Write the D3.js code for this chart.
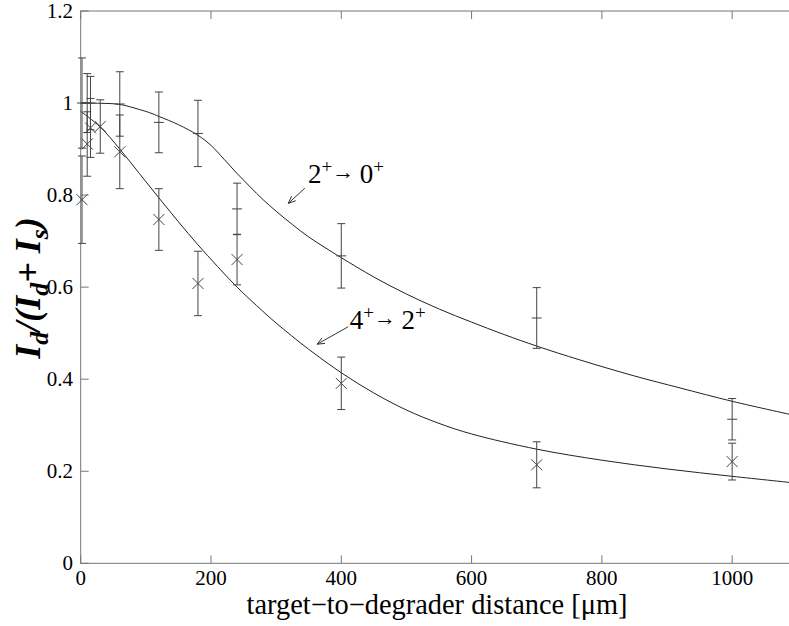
<!DOCTYPE html>
<html>
<head>
<meta charset="utf-8">
<script src="https://cdn.jsdelivr.net/npm/d3@7"></script>
<style>
  body { margin: 0; background: #fff; }
  #viz svg { display: block; }
</style>
</head>
<body>
<div id="viz"></div>
<script>
// measured points, 2+ -> 0+
const dist20 = [2, 10, 15, 60, 120, 180, 240, 400, 700, 1000];
const ratio20 = [1.0, 1.0, 1.0, 0.998, 0.958, 0.934, 0.770, 0.668, 0.533, 0.313];
const err20 = [0.098, 0.064, 0.058, 0.07, 0.066, 0.072, 0.056, 0.07, 0.066, 0.045];

// measured points, 4+ -> 2+
const dist42 = [2, 10, 15, 30, 60, 120, 180, 240, 400, 700, 1000];
const ratio42 = [0.790, 0.911, 0.946, 0.949, 0.894, 0.747, 0.608, 0.660, 0.391, 0.214, 0.221];
const err42 = [0.095, 0.07, 0.064, 0.058, 0.08, 0.067, 0.07, 0.055, 0.057, 0.05, 0.04];

// fitted curves
const fit20X = [0, 30, 60, 90, 106, 120, 150, 180, 200, 220, 240, 260, 280, 300, 325, 350, 375, 400, 450, 500, 551, 600, 650, 700, 766, 850, 920, 1000, 1100];
const fit20Y = [1.0, 0.9995, 0.997, 0.986, 0.979, 0.971, 0.953, 0.930, 0.908, 0.878, 0.847, 0.818, 0.790, 0.765, 0.736, 0.709, 0.686, 0.664, 0.622, 0.585, 0.552, 0.524, 0.497, 0.472, 0.442, 0.407, 0.381, 0.352, 0.320];
const fit42X = [0, 30, 60, 90, 120, 150, 180, 210, 240, 270, 300, 350, 400, 450, 500, 550, 600, 700, 800, 900, 1000, 1100];
const fit42Y = [0.982, 0.948, 0.900, 0.847, 0.794, 0.742, 0.692, 0.645, 0.600, 0.560, 0.522, 0.465, 0.414, 0.370, 0.333, 0.304, 0.281, 0.248, 0.224, 0.205, 0.189, 0.174];

const xTicks = [0, 200, 400, 600, 800, 1000];
const yTicks = [0, 0.2, 0.4, 0.6, 0.8, 1, 1.2];

const serif = '"Liberation Serif", "Times New Roman", Times, serif';

document.addEventListener("DOMContentLoaded", () => {
  const width = 789, height = 626;
  const svg = d3.select("#viz").append("svg")
    .attr("width", width)
    .attr("height", height)
    .style("font-family", serif);

  const x = d3.scaleLinear().domain([0, 1100]).range([80.7, 797.3]);
  const y = d3.scaleLinear().domain([0, 1.2]).range([563.3, 11]);

  const axisColor = "#777";
  const tickLen = 8;

  // frame
  const frame = svg.append("g").attr("stroke", axisColor).attr("fill", "none");
  frame.append("rect")
    .attr("x", x(0)).attr("y", y(1.2))
    .attr("width", x(1100) - x(0)).attr("height", y(0) - y(1.2));

  // inward ticks on all sides
  frame.selectAll(".xtb").data(xTicks).enter().append("line")
    .attr("x1", d => x(d)).attr("x2", d => x(d))
    .attr("y1", y(0)).attr("y2", y(0) - tickLen);
  frame.selectAll(".xtt").data(xTicks).enter().append("line")
    .attr("x1", d => x(d)).attr("x2", d => x(d))
    .attr("y1", y(1.2)).attr("y2", y(1.2) + tickLen);
  frame.selectAll(".ytl").data(yTicks).enter().append("line")
    .attr("x1", x(0)).attr("x2", x(0) + tickLen)
    .attr("y1", d => y(d)).attr("y2", d => y(d));
  frame.selectAll(".ytr").data(yTicks).enter().append("line")
    .attr("x1", x(1100)).attr("x2", x(1100) - tickLen)
    .attr("y1", d => y(d)).attr("y2", d => y(d));

  // tick labels
  svg.append("g").selectAll("text").data(xTicks).enter().append("text")
    .attr("x", d => x(d)).attr("y", 585)
    .attr("text-anchor", "middle")
    .style("font-size", "21px")
    .text(d => d);
  svg.append("g").selectAll("text").data(yTicks).enter().append("text")
    .attr("x", 73).attr("y", d => y(d) + 7)
    .attr("text-anchor", "end")
    .style("font-size", "21px")
    .text(d => d === 0 || d === 1 ? d : d.toFixed(1));

  // axis titles
  const xt = svg.append("text")
    .attr("x", 437).attr("y", 614)
    .attr("text-anchor", "middle")
    .style("font-size", "27px")
    .text("target\u2212to\u2212degrader distance [\u03bcm]");
  // fit width to the reference (about 381px)
  const xtw = xt.node().getComputedTextLength();
  if (xtw > 0) xt.style("font-size", (27 * 381 / xtw).toFixed(1) + "px");

  const yl = svg.append("text")
    .attr("transform", "translate(40,288) rotate(-90)")
    .attr("text-anchor", "middle")
    .style("font-size", "36px")
    .style("font-style", "italic")
    .style("font-weight", "bold");
  yl.append("tspan").text("I");
  yl.append("tspan").attr("dy", 8).style("font-size", "26px").text("d");
  yl.append("tspan").attr("dy", -8).text("/(I");
  yl.append("tspan").attr("dy", 8).style("font-size", "26px").text("d");
  yl.append("tspan").attr("dy", -8).text("+ I");
  yl.append("tspan").attr("dy", 8).style("font-size", "26px").text("s");
  yl.append("tspan").attr("dy", -8).text(")");

  // fitted curves
  const line = d3.line()
    .x(d => x(d[0]))
    .y(d => y(d[1]))
    .curve(d3.curveCatmullRom);
  svg.append("path")
    .datum(d3.zip(fit20X, fit20Y))
    .attr("d", line)
    .attr("fill", "none").attr("stroke", "#222").attr("stroke-width", 1);
  svg.append("path")
    .datum(d3.zip(fit42X, fit42Y))
    .attr("d", line)
    .attr("fill", "none").attr("stroke", "#222").attr("stroke-width", 1);

  // error bars
  function errorBars(xs, vs, es, cls) {
    const g = svg.append("g").attr("class", cls)
      .attr("stroke", "#444").attr("stroke-width", 1);
    const rows = d3.zip(xs, vs, es);
    g.selectAll(".v").data(rows).enter().append("line")
      .attr("x1", d => x(d[0])).attr("x2", d => x(d[0]))
      .attr("y1", d => y(d[1] - d[2])).attr("y2", d => y(d[1] + d[2]));
    g.selectAll(".top").data(rows).enter().append("line")
      .attr("x1", d => x(d[0]) - 4).attr("x2", d => x(d[0]) + 4)
      .attr("y1", d => y(d[1] + d[2])).attr("y2", d => y(d[1] + d[2]));
    g.selectAll(".bot").data(rows).enter().append("line")
      .attr("x1", d => x(d[0]) - 4).attr("x2", d => x(d[0]) + 4)
      .attr("y1", d => y(d[1] - d[2])).attr("y2", d => y(d[1] - d[2]));
    return g;
  }

  const g20 = errorBars(dist20, ratio20, err20, "s20");
  g20.selectAll(".mid").data(d3.zip(dist20, ratio20)).enter().append("line")
    .attr("x1", d => x(d[0]) - 5).attr("x2", d => x(d[0]) + 5)
    .attr("y1", d => y(d[1])).attr("y2", d => y(d[1]));

  const g42 = errorBars(dist42, ratio42, err42, "s42");
  const cross = g42.selectAll(".cross").data(d3.zip(dist42, ratio42)).enter().append("g")
    .attr("transform", d => `translate(${x(d[0])},${y(d[1])})`);
  cross.append("line").attr("x1", -5.5).attr("y1", -5.5).attr("x2", 5.5).attr("y2", 5.5);
  cross.append("line").attr("x1", -5.5).attr("y1", 5.5).attr("x2", 5.5).attr("y2", -5.5);

  // annotations (data coordinates)
  const notes = [
    { lo: "2", hi: "0", tx: 349, ty: 0.826, from: [344, 0.815], to: [318.6, 0.782] },
    { lo: "4", hi: "2", tx: 413, ty: 0.509, from: [410.7, 0.514], to: [363, 0.476] }
  ];

  notes.forEach(n => {
    const t = svg.append("text")
      .attr("x", x(n.tx)).attr("y", y(n.ty))
      .style("font-size", "27px");
    t.append("tspan").text(n.lo);
    t.append("tspan").attr("dy", -10).style("font-size", "19px").text("+");
    t.append("tspan").attr("dy", 6).style("font-size", "22px").text("\u2192 ");
    t.append("tspan").attr("dy", 4).text(n.hi);
    t.append("tspan").attr("dy", -10).style("font-size", "19px").text("+");

    const x1 = x(n.from[0]), y1 = y(n.from[1]);
    const x2 = x(n.to[0]), y2 = y(n.to[1]);
    const ag = svg.append("g").attr("stroke", "#333").attr("stroke-width", 1);
    ag.append("line").attr("x1", x1).attr("y1", y1).attr("x2", x2).attr("y2", y2);
    const ang = Math.atan2(y1 - y2, x1 - x2);
    [-0.4, 0.4].forEach(a => {
      ag.append("line")
        .attr("x1", x2).attr("y1", y2)
        .attr("x2", x2 + 8 * Math.cos(ang + a))
        .attr("y2", y2 + 8 * Math.sin(ang + a));
    });
  });
});
</script>
</body>
</html>
